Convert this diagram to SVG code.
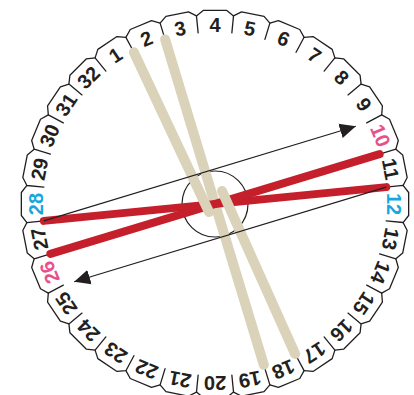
<svg xmlns="http://www.w3.org/2000/svg" xmlns:xlink="http://www.w3.org/1999/xlink" width="414" height="395" viewBox="0 0 414 395">
<style>
.cell{fill:none;stroke:#231f20;stroke-width:1.3;stroke-linejoin:round;stroke-linecap:round}
.lbl{font-family:"Liberation Sans",Arial,sans-serif;font-size:20px;font-weight:bold;text-anchor:middle;fill:#231f20}
.pink{fill:#e9508a}
.cyan{fill:#14a8df}
.tan{stroke:#dad3b9;stroke-width:10;stroke-linecap:round;fill:none}
.red{stroke:#c51f2c;stroke-width:8;stroke-linecap:round;fill:none}
.thin{stroke:#231f20;stroke-width:1.2;fill:none}
</style>
<defs>
<path id="cell" class="cell" d="M198.14,32.83 L196.47,15.91 L203.49,10.34 L226.51,10.34 L233.53,15.91"/>
<marker id="ah" markerUnits="userSpaceOnUse" markerWidth="16" markerHeight="16" refX="16" refY="8" orient="auto">
<path d="M0,0.5 L16,8 L0,15.5 z" fill="#231f20"/>
</marker>
</defs>
<rect width="414" height="395" fill="#ffffff"/>
<g id="ring">
<g id="slot-1" transform="rotate(-33.75 215 204)"><use xlink:href="#cell" href="#cell"/><text class="lbl" x="215" y="32">1</text></g>
<g id="slot-2" transform="rotate(-22.5 215 204)"><use xlink:href="#cell" href="#cell"/><text class="lbl" x="215" y="32">2</text></g>
<g id="slot-3" transform="rotate(-11.25 215 204)"><use xlink:href="#cell" href="#cell"/><text class="lbl" x="215" y="32">3</text></g>
<g id="slot-4" transform="rotate(0 215 204)"><use xlink:href="#cell" href="#cell"/><text class="lbl" x="215" y="32">4</text></g>
<g id="slot-5" transform="rotate(11.25 215 204)"><use xlink:href="#cell" href="#cell"/><text class="lbl" x="215" y="32">5</text></g>
<g id="slot-6" transform="rotate(22.5 215 204)"><use xlink:href="#cell" href="#cell"/><text class="lbl" x="215" y="32">6</text></g>
<g id="slot-7" transform="rotate(33.75 215 204)"><use xlink:href="#cell" href="#cell"/><text class="lbl" x="215" y="32">7</text></g>
<g id="slot-8" transform="rotate(45 215 204)"><use xlink:href="#cell" href="#cell"/><text class="lbl" x="215" y="32">8</text></g>
<g id="slot-9" transform="rotate(56.25 215 204)"><use xlink:href="#cell" href="#cell"/><text class="lbl" x="215" y="32">9</text></g>
<g id="slot-10" transform="rotate(67.5 215 204)"><use xlink:href="#cell" href="#cell"/><text class="lbl pink" x="215" y="32">10</text></g>
<g id="slot-11" transform="rotate(78.75 215 204)"><use xlink:href="#cell" href="#cell"/><text class="lbl" x="215" y="32">11</text></g>
<g id="slot-12" transform="rotate(90 215 204)"><use xlink:href="#cell" href="#cell"/><text class="lbl cyan" x="215" y="32">12</text></g>
<g id="slot-13" transform="rotate(101.25 215 204)"><use xlink:href="#cell" href="#cell"/><text class="lbl" x="215" y="32">13</text></g>
<g id="slot-14" transform="rotate(112.5 215 204)"><use xlink:href="#cell" href="#cell"/><text class="lbl" x="215" y="32">14</text></g>
<g id="slot-15" transform="rotate(123.75 215 204)"><use xlink:href="#cell" href="#cell"/><text class="lbl" x="215" y="32">15</text></g>
<g id="slot-16" transform="rotate(135 215 204)"><use xlink:href="#cell" href="#cell"/><text class="lbl" x="215" y="32">16</text></g>
<g id="slot-17" transform="rotate(146.25 215 204)"><use xlink:href="#cell" href="#cell"/><text class="lbl" x="215" y="32">17</text></g>
<g id="slot-18" transform="rotate(157.5 215 204)"><use xlink:href="#cell" href="#cell"/><text class="lbl" x="215" y="32">18</text></g>
<g id="slot-19" transform="rotate(168.75 215 204)"><use xlink:href="#cell" href="#cell"/><text class="lbl" x="215" y="32">19</text></g>
<g id="slot-20" transform="rotate(180 215 204)"><use xlink:href="#cell" href="#cell"/><text class="lbl" x="215" y="32">20</text></g>
<g id="slot-21" transform="rotate(191.25 215 204)"><use xlink:href="#cell" href="#cell"/><text class="lbl" x="215" y="32">21</text></g>
<g id="slot-22" transform="rotate(202.5 215 204)"><use xlink:href="#cell" href="#cell"/><text class="lbl" x="215" y="32">22</text></g>
<g id="slot-23" transform="rotate(213.75 215 204)"><use xlink:href="#cell" href="#cell"/><text class="lbl" x="215" y="32">23</text></g>
<g id="slot-24" transform="rotate(225 215 204)"><use xlink:href="#cell" href="#cell"/><text class="lbl" x="215" y="32">24</text></g>
<g id="slot-25" transform="rotate(236.25 215 204)"><use xlink:href="#cell" href="#cell"/><text class="lbl" x="215" y="32">25</text></g>
<g id="slot-26" transform="rotate(247.5 215 204)"><use xlink:href="#cell" href="#cell"/><text class="lbl pink" x="215" y="32">26</text></g>
<g id="slot-27" transform="rotate(258.75 215 204)"><use xlink:href="#cell" href="#cell"/><text class="lbl" x="215" y="32">27</text></g>
<g id="slot-28" transform="rotate(270 215 204)"><use xlink:href="#cell" href="#cell"/><text class="lbl cyan" x="215" y="32">28</text></g>
<g id="slot-29" transform="rotate(281.25 215 204)"><use xlink:href="#cell" href="#cell"/><text class="lbl" x="215" y="32">29</text></g>
<g id="slot-30" transform="rotate(292.5 215 204)"><use xlink:href="#cell" href="#cell"/><text class="lbl" x="215" y="32">30</text></g>
<g id="slot-31" transform="rotate(303.75 215 204)"><use xlink:href="#cell" href="#cell"/><text class="lbl" x="215" y="32">31</text></g>
<g id="slot-32" transform="rotate(315 215 204)"><use xlink:href="#cell" href="#cell"/><text class="lbl" x="215" y="32">32</text></g>
</g>
<g id="hole"><circle cx="215" cy="204" r="33" fill="none" stroke="#231f20" stroke-width="1.2"/></g>
<g id="connectors">
<line class="tan" x1="165.1" y1="39.4" x2="263.8" y2="364.8"/>
<line class="red" x1="43.83" y1="220.86" x2="386.17" y2="187.14"/>
<line class="red" x1="50.41" y1="253.93" x2="379.59" y2="154.07"/>
<line class="tan" x1="133.9" y1="52.3" x2="209" y2="212"/>
<line class="tan" x1="295.1" y1="353.9" x2="222" y2="191"/>
<line class="thin" x1="43.83" y1="220.86" x2="355.8" y2="126.2" marker-end="url(#ah)"/>
<line class="thin" x1="386.17" y1="187.14" x2="74.2" y2="281.8" marker-end="url(#ah)"/>
</g>
</svg>
